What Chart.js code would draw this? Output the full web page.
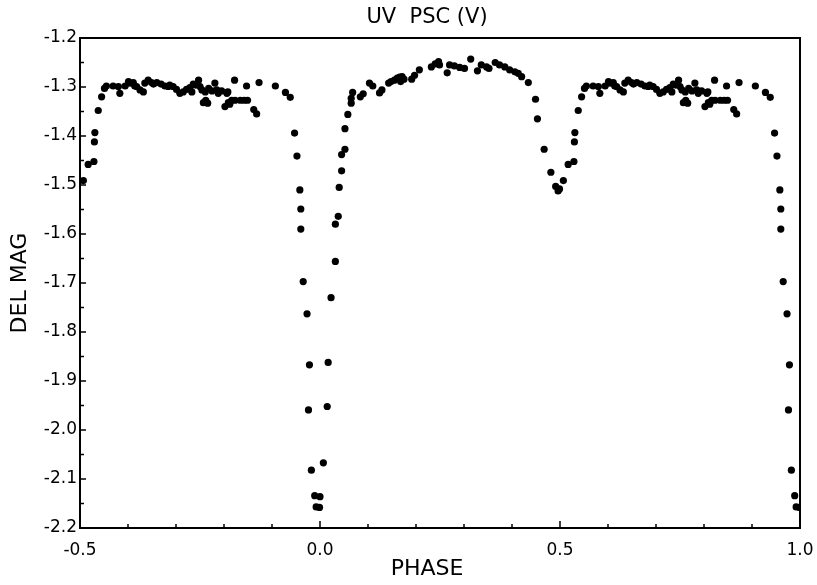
<!DOCTYPE html>
<html>
<head>
<meta charset="utf-8">
<title>UV PSC (V)</title>
<script src="https://cdn.jsdelivr.net/npm/chart.js@4.4.0/dist/chart.umd.min.js"></script>
<style>
  body { margin: 0; background: #fff; }
  #box { width: 817px; height: 585px; }
</style>
</head>
<body>
<div id="box"><canvas id="lightCurve"></canvas></div>
<script>
var chartTitle = "UV  PSC (V)";
var xTitle = "PHASE";
var yTitle = "DEL MAG";

// one cycle of the light curve (phase 0..1)
var phase = [
  0.000, 0.007, 0.015, 0.017, 0.023, 0.032, 0.032, 0.038, 0.040, 0.045,
  0.045, 0.052, 0.052, 0.058, 0.065, 0.065, 0.068, 0.084, 0.090, 0.103,
  0.110, 0.124, 0.129, 0.143, 0.148, 0.155, 0.161, 0.166, 0.168, 0.171,
  0.175, 0.191, 0.197, 0.207, 0.232, 0.240, 0.247, 0.249, 0.265, 0.270,
  0.280, 0.291, 0.301, 0.314, 0.328, 0.336, 0.347, 0.352, 0.365, 0.374,
  0.385, 0.395, 0.406, 0.413, 0.420, 0.434, 0.449, 0.453, 0.467, 0.481,
  0.491, 0.496, 0.499, 0.507, 0.517, 0.529, 0.530, 0.531, 0.538, 0.545,
  0.551, 0.555, 0.569, 0.580, 0.583, 0.594, 0.601, 0.604, 0.611, 0.614,
  0.618, 0.625, 0.632, 0.635, 0.642, 0.649, 0.653, 0.660, 0.669, 0.677,
  0.684, 0.687, 0.694, 0.701, 0.708, 0.715, 0.722, 0.729, 0.733, 0.736,
  0.741, 0.747, 0.750, 0.754, 0.757, 0.761, 0.762, 0.766, 0.768, 0.775,
  0.781, 0.785, 0.788, 0.795, 0.802, 0.806, 0.808, 0.809, 0.812, 0.816,
  0.822, 0.823, 0.834, 0.842, 0.847, 0.849, 0.862, 0.868, 0.873, 0.907,
  0.928, 0.938, 0.947, 0.952, 0.958, 0.960, 0.960, 0.965, 0.973, 0.978,
  0.976, 0.982, 0.989, 0.992, 0.999
];
var delMag = [
  -2.136, -2.067, -1.952, -1.862, -1.730, -1.656, -1.580, -1.564, -1.505, -1.471,
  -1.438, -1.427, -1.385, -1.356, -1.333, -1.323, -1.311, -1.320, -1.314, -1.292,
  -1.298, -1.312, -1.306, -1.292, -1.289, -1.286, -1.282, -1.280, -1.289, -1.279,
  -1.284, -1.284, -1.276, -1.265, -1.259, -1.253, -1.248, -1.255, -1.271, -1.255,
  -1.257, -1.260, -1.262, -1.243, -1.267, -1.255, -1.259, -1.262, -1.250, -1.255,
  -1.259, -1.265, -1.269, -1.272, -1.279, -1.291, -1.325, -1.365, -1.427, -1.474,
  -1.503, -1.512, -1.508, -1.491, -1.458, -1.452, -1.412, -1.393, -1.348, -1.320,
  -1.303, -1.298, -1.298, -1.299, -1.313, -1.298, -1.289, -1.292, -1.291, -1.298,
  -1.299, -1.306, -1.310, -1.292, -1.286, -1.291, -1.294, -1.291, -1.294, -1.298,
  -1.299, -1.296, -1.299, -1.305, -1.313, -1.310, -1.305, -1.301, -1.310, -1.294,
  -1.296, -1.286, -1.299, -1.306, -1.332, -1.310, -1.327, -1.333, -1.303, -1.308,
  -1.292, -1.306, -1.313, -1.308, -1.340, -1.313, -1.310, -1.332, -1.335, -1.327,
  -1.286, -1.327, -1.327, -1.327, -1.298, -1.327, -1.346, -1.355, -1.291, -1.298,
  -1.311, -1.321, -1.394, -1.441, -1.510, -1.549, -1.590, -1.697, -1.763, -1.867,
  -1.959, -2.082, -2.134, -2.157, -2.158
];

var xTickValues = [-0.5, 0.0, 0.5, 1.0];
var yMin = -2.2, yMax = -1.2;

window.onload = inicializar;

function inicializar() {
  var points = [];
  for (var i = 0; i < phase.length; i++) {
    points.push({ x: phase[i], y: delMag[i] });
    // second half of the cycle is shown again one cycle earlier, as on the original
    if (phase[i] > 0.5) {
      points.push({ x: phase[i] - 1, y: delMag[i] });
    }
  }
  drawChart(document.getElementById("lightCurve"), points);
}

var frameAndText = {
  id: "frameAndText",
  afterDraw: function (chart) {
    var ctx = chart.ctx, a = chart.chartArea;
    var xs = chart.scales.x, ys = chart.scales.y;
    var v, px, i;
    ctx.save();
    ctx.strokeStyle = "#000";
    ctx.lineWidth = 2;
    ctx.strokeRect(a.left, a.top, a.right - a.left, a.bottom - a.top);

    ctx.lineWidth = 1.5;
    ctx.beginPath();
    for (i = 1; i < 15; i++) {
      v = -0.5 + i * 0.1;
      px = xs.getPixelForValue(v);
      var len = (i % 5 == 0) ? 7 : 4;
      ctx.moveTo(px, a.bottom);
      ctx.lineTo(px, a.bottom - len);
    }
    for (i = 1; i < 20; i++) {
      v = yMin + i * 0.05;
      px = ys.getPixelForValue(v);
      ctx.moveTo(a.left, px);
      ctx.lineTo(a.left + ((i % 2 == 0) ? 6 : 4), px);
    }
    ctx.stroke();

    ctx.fillStyle = "#000";
    ctx.textAlign = "center";
    ctx.textBaseline = "middle";
    ctx.font = "21px 'DejaVu Sans'";
    var cx = a.left + (a.right - a.left) * 0.482;
    ctx.fillText(chartTitle, cx, 18);
    ctx.font = "22px 'DejaVu Sans'";
    ctx.fillText(xTitle, cx, 569);
    ctx.restore();
  }
};

function drawChart(htmldoc, points) {
  new Chart(htmldoc, {
    type: "scatter",
    data: {
      datasets: [{
        data: points,
        backgroundColor: "#000",
        borderWidth: 0,
        pointRadius: 3.6,
        pointHoverRadius: 3.6
      }]
    },
    options: {
      responsive: true,
      maintainAspectRatio: false,
      animation: false,
      layout: { padding: { top: 38, right: 17, bottom: 0, left: 0 } },
      plugins: {
        legend: { display: false },
        tooltip: { enabled: false }
      },
      scales: {
        x: {
          type: "linear",
          min: -0.5,
          max: 1.0,
          afterFit: function (scale) {
            scale.height = 57;
            scale.paddingLeft = 0;
            scale.paddingRight = 0;
          },
          afterBuildTicks: function (scale) {
            scale.ticks = xTickValues.map(function (t) { return { value: t }; });
          },
          grid: { display: false, drawTicks: false },
          border: { display: false },
          ticks: {
            color: "#000",
            padding: 12,
            maxRotation: 0,
            font: { family: "DejaVu Sans", size: 17 },
            callback: function (value) { return Number(value).toFixed(1); }
          }
        },
        y: {
          type: "linear",
          min: yMin,
          max: yMax,
          afterFit: function (scale) {
            scale.width = 80;
            scale.paddingTop = 0;
            scale.paddingBottom = 0;
          },
          grid: { display: false, drawTicks: false },
          border: { display: false },
          title: {
            display: true,
            text: yTitle,
            color: "#000",
            padding: { top: 7, bottom: 0 },
            font: { family: "DejaVu Sans", size: 22 }
          },
          ticks: {
            color: "#000",
            padding: 3,
            stepSize: 0.1,
            font: { family: "DejaVu Sans", size: 17 },
            callback: function (value) { return Number(value).toFixed(1); }
          }
        }
      }
    },
    plugins: [frameAndText]
  });
}
</script>
</body>
</html>
